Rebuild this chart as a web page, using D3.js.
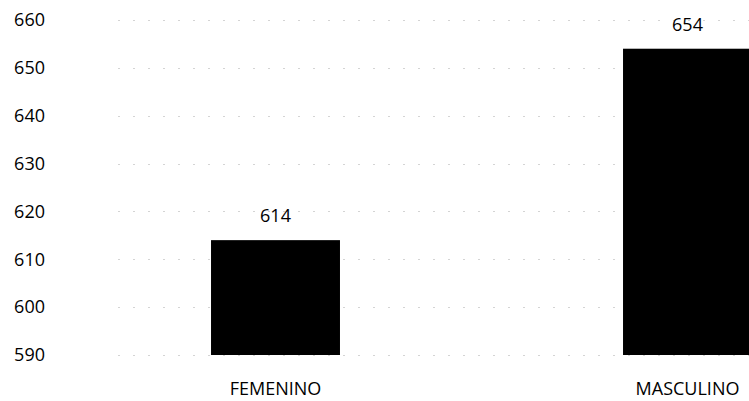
<!DOCTYPE html>
<html>
<head>
<meta charset="utf-8">
<script src="https://cdn.jsdelivr.net/npm/d3@7"></script>
<style>
  html, body { margin: 0; padding: 0; background: #fff; }
  svg { display: block; }
  text { font-family: "Open Sans", "Noto Sans", sans-serif; fill: #000; }
</style>
</head>
<body>
<script>
const categories = ["FEMENINO", "MASCULINO"];
const values = [614, 654];
const yTicks = [590, 600, 610, 620, 630, 640, 650, 660];

const W = 749, H = 401;
const svg = d3.select("body").append("svg").attr("width", W).attr("height", H);

const y = d3.scaleLinear().domain([590, 660]).range([355, 20]);
const x = d3.scaleBand().domain(categories).range([69.5, 893.5]).paddingInner(0.687).paddingOuter(0.3435);

// faint scanned-looking gridlines
svg.append("g").selectAll("line").data(yTicks).join("line")
  .attr("x1", 118).attr("x2", W)
  .attr("y1", d => Math.round(y(d)) + 0.5).attr("y2", d => Math.round(y(d)) + 0.5)
  .attr("stroke", "#d4d4d4").attr("stroke-width", 1)
  .attr("stroke-dasharray", "2,13");

// y axis labels
const yAxis = d3.axisLeft(y).tickValues(yTicks).tickSize(0).tickPadding(0);
const yg = svg.append("g").attr("transform", "translate(45,0)").call(yAxis);
yg.select(".domain").remove();
yg.selectAll("text").style("font-size", "18px").style("font-family", "'Open Sans', sans-serif").attr("fill", "#000");

// bars
svg.append("g").selectAll("rect").data(values).join("rect")
  .attr("x", (d, i) => x(categories[i]))
  .attr("width", x.bandwidth())
  .attr("y", d => y(d))
  .attr("height", d => y(590) - y(d))
  .attr("fill", "#000");

// value labels
svg.append("g").selectAll("text").data(values).join("text")
  .attr("x", (d, i) => x(categories[i]) + x.bandwidth() / 2)
  .attr("y", d => y(d) - 18)
  .attr("text-anchor", "middle")
  .style("font-size", "18px")
  .text(d => d);

// x axis labels
const xAxis = d3.axisBottom(x).tickSize(0).tickPadding(0);
const xg = svg.append("g").attr("transform", "translate(0,382)").call(xAxis);
xg.select(".domain").remove();
xg.selectAll("text").style("font-size", "18px").style("font-family", "'Open Sans', sans-serif").attr("fill", "#000").attr("dy", "0.71em");
</script>
</body>
</html>
